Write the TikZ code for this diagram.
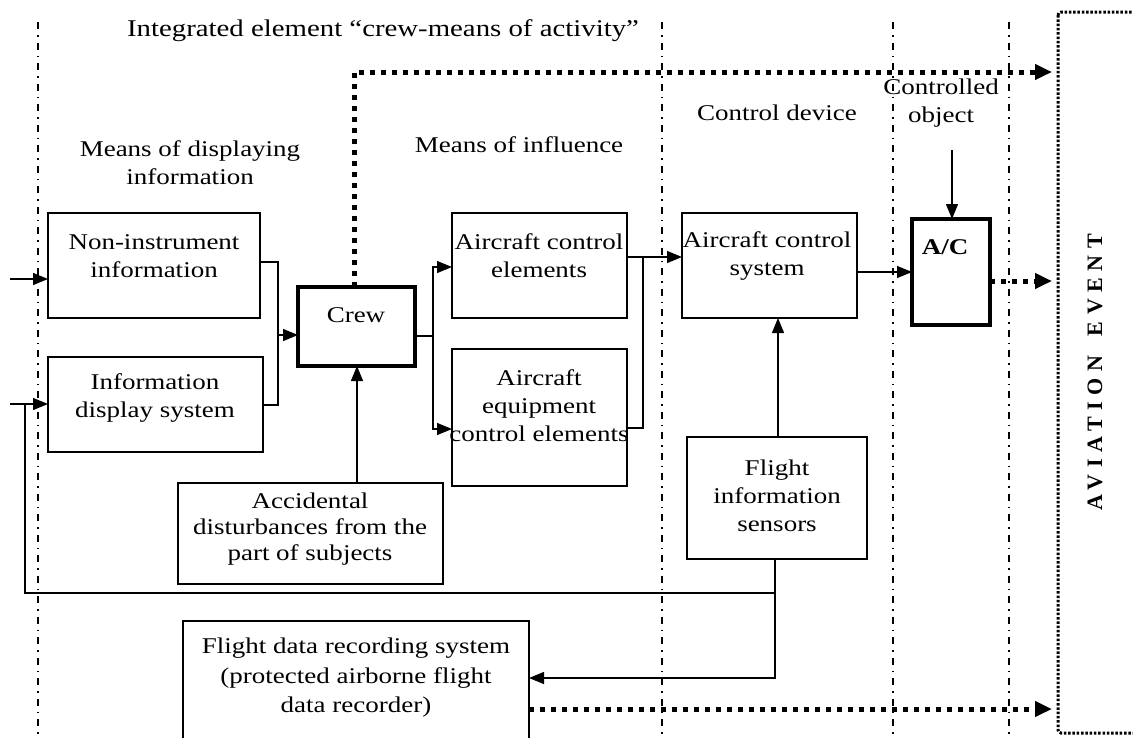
\documentclass[tikz,border=0pt]{standalone}
\usepackage{fontspec}
\setmainfont{Liberation Serif}[FakeStretch=1.2]
\newfontfamily\avfont{Liberation Serif}[LetterSpace=30]
\usetikzlibrary{arrows.meta}
\newcommand{\fs}{\fontsize{22.5}{28}\selectfont}
\tikzset{
  box/.style={draw, line width=1.3pt, inner sep=0pt, outer sep=0pt, anchor=north west},
  thickbox/.style={box, line width=3.5pt},
  lbl/.style={align=center, inner sep=0pt, font=\fs},
  conn/.style={line width=1.3pt},
  arr/.style={conn, -{Triangle[length=15pt,width=12pt]}},
  dotarr/.style={line width=5pt, dash pattern=on 5pt off 6pt, -{Triangle[length=17pt,width=15pt]}},
  sep/.style={line width=1.9pt, dash pattern=on 7pt off 6pt on 1.5pt off 6pt},
  evbox/.style={line width=3pt, dash pattern=on 2.5pt off 1.8pt, rounded corners=3pt},
}
\begin{document}
\begin{tikzpicture}[x=1pt,y=-1pt]
\useasboundingbox (0,0) rectangle (1133,737);
% column separators
\foreach \x in {38,662,893,1009} \draw[sep] (\x,22) -- (\x,737);
% aviation event frame
\draw[evbox] (1058,12) rectangle (1160,733);
\node[rotate=90, inner sep=0pt, font=\avfont\bfseries\fontsize{22}{26}\selectfont] (ev) at (1095,372) {AVIATION\hspace{0.9em}EVENT};
% headings
\node[lbl, font=\fontsize{24}{28}\selectfont] (title) at (383,31) {Integrated element “crew-means of activity”};
\node[lbl] (hdisp) at (190,163) {Means of displaying\\information};
\node[lbl] (hinfl) at (519,145) {Means of influence};
\node[lbl] (hcdev) at (777,113) {Control device};
\node[lbl] (hcobj) at (941,103) {Controlled\\object};
% boxes
\node[box, minimum width=212pt, minimum height=105pt] (nonin) at (48,213) {};
\node[lbl] (nonint) at (154,256) {Non-instrument\\information};
\node[box, minimum width=215pt, minimum height=95pt] (ids) at (48,357) {};
\node[lbl] (idst) at (155,398) {Information\\display system};
\node[thickbox, minimum width=117pt, minimum height=79pt] (crew) at (298,287) {};
\node[lbl] (crewt) at (356,315) {Crew};
\node[box, minimum width=175pt, minimum height=105pt] (ace) at (452,213) {};
\node[lbl] (acet) at (539,256) {Aircraft control\\elements};
\node[box, minimum width=175pt, minimum height=137pt] (aee) at (452,349) {};
\node[lbl] (aeet) at (539,406) {Aircraft\\equipment\\control elements};
\node[box, minimum width=175pt, minimum height=105pt] (acs) at (682,213) {};
\node[lbl] (acst) at (767,256) {Aircraft control\\system};
\node[thickbox, minimum width=78pt, minimum height=106pt] (ac) at (912,219) {};
\node[lbl, font=\fs\bfseries] (act) at (945,247) {A/C};
\node[box, minimum width=180pt, minimum height=122pt] (fis) at (687,437) {};
\node[lbl] (fist) at (777,496) {Flight\\information\\sensors};
\node[box, minimum width=265pt, minimum height=101pt] (acc) at (178,483) {};
\node[lbl, font=\fontsize{22.5}{26}\selectfont] (acct) at (310,529) {Accidental\\disturbances from the\\part of subjects};
\node[box, minimum width=346pt, minimum height=124pt] (fdr) at (183,621) {};
\node[lbl, font=\fontsize{22.5}{29.5}\selectfont] (fdrt) at (356,678) {Flight data recording system\\(protected airborne flight\\data recorder)};
% coordinates
\coordinate (in1) at (10,279);
\coordinate (in2) at (10,404);
\coordinate (fb) at (25,404);
\coordinate (fbc) at (775,593);
\coordinate (rec) at (775,678);
\coordinate (j1a) at (278,262);
\coordinate (j1b) at (278,405);
\coordinate (j1) at (278,335);
\coordinate (j2) at (433,336);
\coordinate (j2a) at (433,267);
\coordinate (j2b) at (433,429);
\coordinate (j3a) at (643,257);
\coordinate (j3b) at (643,428);
\coordinate (x4) at (778,0);
\coordinate (x5) at (357,0);
\coordinate (y6) at (0,272);
\coordinate (topin) at (952,150);
\coordinate (c7) at (354,72);
\coordinate (t1) at (1052,72);
\coordinate (t2) at (1052,281);
\coordinate (t3) at (1052,709);
% connectors
\draw[arr] (in1) -- (nonin.west |- in1);
\draw[arr] (in2) -- (ids.west |- in2);
\draw[conn] (fis.south -| fbc) -- (fbc) -| (fb);
\draw[arr] (fbc) -- (rec) -- (fdr.east |- rec);
\draw[conn] (nonin.east |- j1a) -- (j1a) -- (j1b) -- (ids.east |- j1b);
\draw[arr] (j1) -- (crew.west |- j1);
\draw[conn] (crew.east |- j2) -- (j2);
\draw[arr] (j2) -- (j2a) -- (ace.west |- j2a);
\draw[arr] (j2) -- (j2b) -- (aee.west |- j2b);
\draw[arr] (ace.east |- j3a) -- (acs.west |- j3a);
\draw[conn] (aee.east |- j3b) -- (j3b) -- (j3a);
\draw[arr] (fis.north -| x4) -- (acs.south -| x4);
\draw[arr] (acc.north -| x5) -- (crew.south -| x5);
\draw[arr] (acs.east |- y6) -- (ac.west |- y6);
\draw[arr] (topin) -- (ac.north -| topin);
\draw[dotarr] (crew.north -| c7) -- (c7) -- (t1);
\draw[dotarr] (ac.east |- t2) -- (t2);
\draw[dotarr] (fdr.east |- t3) -- (t3);
\end{tikzpicture}
\end{document}
